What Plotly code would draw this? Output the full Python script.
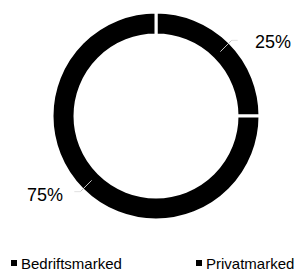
import math
import plotly.graph_objects as go

labels = ["Bedriftsmarked", "Privatmarked"]
values = [25, 75]
colors = ["#000000", "#000000"]

W, H = 304, 272
# pie geometry in pixels
cx, cy, r_out, r_in = 156, 116, 104, 81

fig = go.Figure(go.Pie(
    labels=labels, values=values, hole=r_in / r_out, sort=False, direction="clockwise",
    rotation=0, marker=dict(colors=colors, line=dict(color="white", width=3)),
    textinfo="none", showlegend=False, hoverinfo="skip",
    domain=dict(x=[(cx - r_out) / W, (cx + r_out) / W],
                y=[1 - (cy + r_out) / H, 1 - (cy - r_out) / H]),
))

def px(x, y):
    return x / W, 1 - y / H

total = sum(values)
cum = 0
shapes, annos = [], []
for i, v in enumerate(values):
    mid = (cum + v / 2) / total * 2 * math.pi
    cum += v
    sx, sy = math.sin(mid), -math.cos(mid)
    x0, y0 = cx + 91 * sx, cy + 91 * sy
    x1, y1 = cx + 107 * sx, cy + 107 * sy
    side = 1 if sx > 0 else -1
    x2 = x1 + side * 6
    segs = [((x0, y0, x1, y1), "#c0c0c0"), ((x1, y1, x2, y1), "#e0e0e0")]
    for (a, b, c, d), col in segs:
        p0, p1 = px(a, b), px(c, d)
        shapes.append(dict(type="line", xref="paper", yref="paper",
                           x0=p0[0], y0=p0[1], x1=p1[0], y1=p1[1],
                           line=dict(color=col, width=1)))
    tx, ty = px(x2 + side * (15 if side > 0 else 9), y1 + (2 if side > 0 else 3))
    annos.append(dict(xref="paper", yref="paper", x=tx, y=ty, showarrow=False,
                      text=f"{round(v / total * 100)}%",
                      xanchor="left" if side > 0 else "right", yanchor="middle",
                      font=dict(family="Liberation Sans, Arial", size=18, color="black")))

# legend (drawn manually to reproduce the reference spacing)
leg_x = [11, 196]
for lab, col, lx in zip(labels, colors, leg_x):
    a, b = px(lx, 260)
    c, d = px(lx + 6, 266)
    shapes.append(dict(type="rect", xref="paper", yref="paper", x0=a, y0=d, x1=c, y1=b,
                       fillcolor=col, line=dict(width=0)))
    tx, ty = px(lx + 8, 263)
    annos.append(dict(xref="paper", yref="paper", x=tx, y=ty, showarrow=False,
                      text=lab, xanchor="left", yanchor="middle",
                      font=dict(family="Liberation Sans, Arial", size=15, color="black")))

fig.update_layout(
    width=W, height=H, margin=dict(l=0, r=0, t=0, b=0),
    paper_bgcolor="white", plot_bgcolor="white",
    showlegend=False, shapes=shapes, annotations=annos,
)
fig.write_html("out.html", config={"displayModeBar": False},
               post_script="document.body.style.margin='0px';")
